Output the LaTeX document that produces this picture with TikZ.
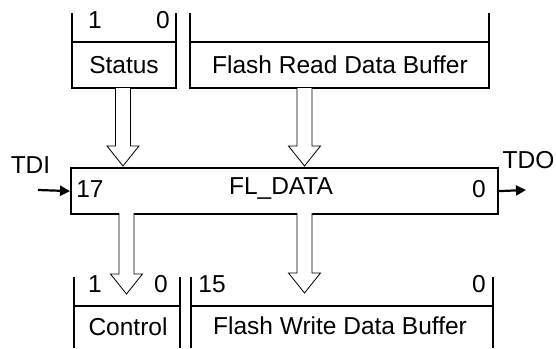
\documentclass[tikz,border=0pt]{standalone}
\usepackage{fontspec}
\setmainfont{Liberation Sans}
\usetikzlibrary{calc,arrows.meta}
\newcommand\blockarrow[2]{\draw[hollow] let \p1=(#1), \p2=(#2) in
  (\x1-7.5pt,\y1) -- (\x1-7.5pt,\y2+20pt) -- (\x1-16pt,\y2+20pt) -- (\x2,\y2)
  -- (\x1+16pt,\y2+20pt) -- (\x1+7.5pt,\y2+20pt) -- (\x1+7.5pt,\y1);}
\begin{document}
\begin{tikzpicture}[x=1pt,y=-1pt,
  wall/.style={line width=2.2pt},
  hollow/.style={draw, line width=0.8pt, fill=white, line join=miter},
  lbl/.style={font=\fontsize{24.5}{28}\selectfont, inner sep=0pt},
  num/.style={font=\fontsize{24.5}{28}\selectfont, inner sep=0pt},
  conn/.style={-{Triangle[length=10pt,width=10pt]}, line width=2.2pt}]
\useasboundingbox[fill=white] (0,0) rectangle (556,348);

% top registers
\draw[wall] (72,13) -- (72,88) -- (176,88) -- (176,13);
\draw[wall] (72,42) -- (176,42);
\draw[wall] (190,13) -- (190,88) -- (489,88) -- (489,13);
\draw[wall] (190,42) -- (489,42);
\node[lbl] (status) at (124,65) {Status};
\node[lbl] (fread) at (340,65) {Flash Read Data Buffer};
\node[num] (s1) at (95,20) {1};
\node[num] (s0) at (163,20) {0};

% FL_DATA register
\node[draw, line width=2.2pt, minimum width=427pt, minimum height=46pt,
      inner sep=0pt, anchor=north west] (fl) at (70,167) {};
\node[lbl] (fltext) at (281,189) {FL\_DATA};
\node[num] (f17) at (90,189) {17};
\node[num] (f0) at (479,189) {0};

% TDI / TDO
\node[lbl] (tdi) at (30.5,165) {TDI};
\node[lbl, anchor=east] (tdo) at (554.5,160) {TDO};
\coordinate (tdiS) at (38,190);
\coordinate (tdoE) at (526,190);
\draw[conn] (tdiS) -- (fl.west);
\draw[conn] (fl.east) -- (tdoE);

% bottom registers
\draw[wall] (74,277) -- (74,348);
\draw[wall] (180,277) -- (180,348);
\draw[wall] (74,306) -- (180,306);
\draw[wall] (191,277) -- (191,348);
\draw[wall] (493,277) -- (493,348);
\draw[wall] (191,306) -- (493,306);
\node[num] (c1) at (95,284) {1};
\node[num] (c0) at (161,284) {0};
\node[num] (w15) at (212,284) {15};
\node[num] (w0) at (479,284) {0};
\node[lbl] (control) at (128,327) {Control};
\node[lbl] (fwrite) at (340,326) {Flash Write Data Buffer};

% block arrows
\coordinate (a1s) at (123,88);   \coordinate (a1t) at (123,166);
\coordinate (a2s) at (304.5,88); \coordinate (a2t) at (304.5,166);
\coordinate (a3s) at (126.5,213); \coordinate (a3t) at (126.5,294);
\coordinate (a4s) at (304.5,213); \coordinate (a4t) at (304.5,293);
\blockarrow{a1s}{a1t}
\blockarrow{a2s}{a2t}
\blockarrow{a3s}{a3t}
\blockarrow{a4s}{a4t}
\end{tikzpicture}
\end{document}
